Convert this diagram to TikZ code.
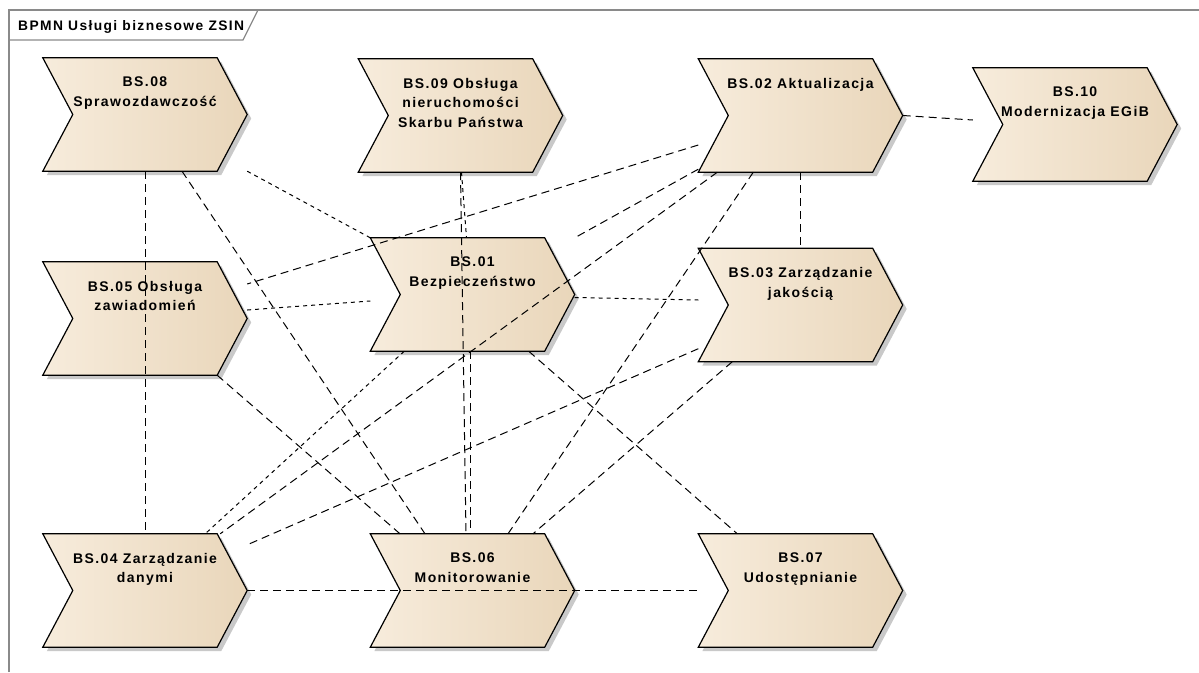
\documentclass[tikz,border=0pt]{standalone}
\usepackage{fontspec}
\setmainfont{Liberation Sans}
\newfontfamily\bsfamily[LetterSpace=10]{Liberation Sans}
\usepackage{xcolor}
\usetikzlibrary{calc, backgrounds}

\definecolor{bsleft}{HTML}{F7ECDC}
\definecolor{bsmid}{HTML}{FAF1E5}
\definecolor{bsright}{HTML}{E9D6BA}
\definecolor{bsshade}{HTML}{C9C9C9}
\definecolor{framegray}{HTML}{8A8A8A}

\newcommand{\bsfont}{\bsfamily\fontsize{14}{19.5}\selectfont\bfseries}

\begin{document}
\begin{tikzpicture}[x=1pt, y=-1pt,
    bsbox/.style={rectangle, minimum width=204pt, minimum height=113pt, inner sep=0pt},
    bstext/.style={anchor=north, yshift=-19pt, align=center, font=\bsfont, inner sep=0pt},
    bsfill/.style={draw=black, line width=1.2pt, line join=miter, left color=bsleft, middle color=bsmid, right color=bsright},
    bsshadow/.style={fill=bsshade},
    longdash/.style={line width=1pt, dash pattern=on 8pt off 5pt},
    shortdash/.style={line width=1pt, dash pattern=on 4pt off 4pt},
    frameline/.style={draw=framegray, line width=1.2pt}]
  \useasboundingbox (0,0) rectangle (1199,672);

  % frame with tab
  \draw[frameline] (9,672) -- (9,10) -- (1199,10);
  \draw[frameline] (9,40) -- (243,40) -- (258,10);
  \node[anchor=base west, inner sep=0pt, font=\bsfamily\fontsize{13.8}{15}\selectfont\bfseries] (title) at (18,30) {BPMN Usługi biznesowe ZSIN};

  % processes
  \node[bsbox, label={[bstext]north:{BS.08\\Sprawozdawczość}}] (bs08) at (145,114.5) {};
  \node[bsbox, label={[bstext]north:{BS.09 Obsługa\\nieruchomości\\Skarbu Państwa}}] (bs09) at (460.5,115.5) {};
  \node[bsbox, label={[bstext]north:{BS.02 Aktualizacja}}] (bs02) at (800.5,115.5) {};
  \node[bsbox, label={[bstext]north:{BS.10\\Modernizacja EGiB}}] (bs10) at (1075,124.5) {};
  \node[bsbox, label={[bstext]north:{BS.05 Obsługa\\zawiadomień}}] (bs05) at (145,318.5) {};
  \node[bsbox, label={[bstext]north:{BS.01\\Bezpieczeństwo}}] (bs01) at (472.5,294.5) {};
  \node[bsbox, label={[bstext]north:{BS.03 Zarządzanie\\jakością}}] (bs03) at (800.5,305) {};
  \node[bsbox, label={[bstext]north:{BS.04 Zarządzanie\\danymi}}] (bs04) at (145,590.5) {};
  \node[bsbox, label={[bstext]north:{BS.06\\Monitorowanie}}] (bs06) at (472.5,590.5) {};
  \node[bsbox, label={[bstext]north:{BS.07\\Udostępnianie}}] (bs07) at (800.5,590.5) {};

  % chevrons behind the texts
  \begin{scope}[on background layer]
    \foreach \n in {bs08,bs09,bs02,bs10,bs05,bs01,bs03,bs04,bs06,bs07} {
      \fill[bsshadow] ([shift={(4,4)}]\n.north west) -- ([shift={(-26,4)}]\n.north east)
        -- ([shift={(4,4)}]\n.east) -- ([shift={(-26,4)}]\n.south east)
        -- ([shift={(4,4)}]\n.south west) -- ([shift={(34,4)}]\n.west) -- cycle;
      \draw[bsfill] (\n.north west) -- ([xshift=-30pt]\n.north east) -- (\n.east)
        -- ([xshift=-30pt]\n.south east) -- (\n.south west) -- ([xshift=30pt]\n.west) -- cycle;
    }
  \end{scope}

  % associations
  \draw[longdash] (bs08.south) -- (bs04.north);
  \draw[longdash] ([xshift=37pt]bs08.south) -- ([xshift=-47.5pt]bs06.north);
  \draw[shortdash] (bs08.south east) -- (bs01.north west);
  \draw[shortdash] ([xshift=1pt]bs09.south) -- ([xshift=-6pt]bs01.north);
  \draw[longdash] (bs09.south) -- ([xshift=-6.5pt]bs06.north);
  \draw[longdash] ([xshift=-2.5pt]bs01.south) -- ([xshift=-2.5pt]bs06.north);
  \draw[longdash] (bs02.east) -- ([yshift=4.5pt]bs10.west);
  \draw[longdash] (bs02.south) -- (bs03.north);
  \draw[longdash] ([yshift=-29.5pt]bs02.west) -- ([yshift=34.5pt]bs05.east);
  \draw[longdash] ([yshift=3pt]bs02.south west) -- (bs01.north east);
  \draw[longdash] ([xshift=19pt]bs02.south west) -- ([xshift=-27pt]bs04.north east);
  \draw[longdash] ([xshift=55pt]bs02.south west) -- ([xshift=35.5pt]bs06.north);
  \draw[longdash] ([xshift=34pt]bs03.south west) -- ([xshift=60.5pt]bs06.north);
  \draw[longdash] ([yshift=13pt]bs03.south west) -- ([yshift=-11pt]bs04.north east);
  \draw[shortdash] ([yshift=-3pt]bs01.east) -- ([yshift=5pt]bs03.west);
  \draw[shortdash] ([yshift=8.5pt]bs05.east) -- ([yshift=-6.5pt]bs01.west);
  \draw[longdash] ([xshift=-30pt]bs05.south east) -- ([xshift=-72.5pt]bs06.north);
  \draw[shortdash] ([xshift=34pt]bs01.south west) -- ([xshift=-42pt]bs04.north east);
  \draw[longdash] ([xshift=-46pt]bs01.south east) -- ([xshift=39pt]bs07.north west);
  \draw[longdash] (bs04.east) -- (bs07.west);
\end{tikzpicture}
\end{document}
